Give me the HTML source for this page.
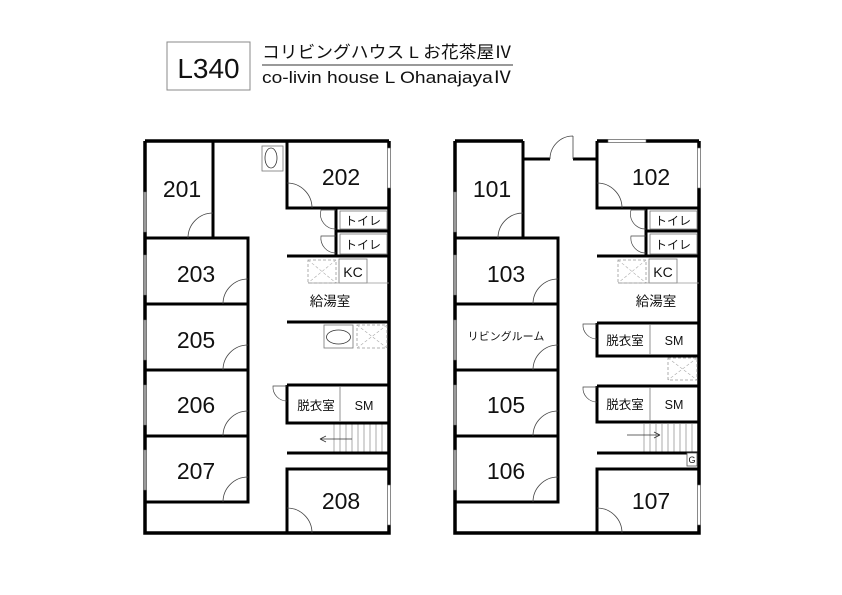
<!DOCTYPE html>
<html><head><meta charset="utf-8"><style>
html,body{margin:0;padding:0;background:#fff;}
svg{display:block;}
text{font-family:"Liberation Sans","Noto Sans CJK JP",sans-serif;fill:#111;}
.rn{font-size:23px;}
</style></head><body>
<svg width="842" height="595" viewBox="0 0 842 595" xmlns="http://www.w3.org/2000/svg">
<rect x="167" y="42" width="83" height="48" fill="#fff" stroke="#888" stroke-width="1"/>
<text x="208.5" y="78" font-size="28" text-anchor="middle">L340</text>
<text x="262" y="58" font-size="17" textLength="250" lengthAdjust="spacingAndGlyphs">コリビングハウス L お花茶屋Ⅳ</text>
<line x1="262" y1="65" x2="513" y2="65" stroke="#333" stroke-width="1"/>
<text x="262" y="83" font-size="17" textLength="250" lengthAdjust="spacingAndGlyphs">co-livin house L OhanajayaⅣ</text>

<defs>
<g id="common" fill="none">
  <path d="M145 141 V533 H389 V141" stroke="#000" stroke-width="3.5"/>
  <path d="M213 141 V238" stroke="#000" stroke-width="3"/>
  <path d="M145 238 H248 V502 H145" stroke="#000" stroke-width="3"/>
  <path d="M145 304 H248 M145 370 H248 M145 436 H248" stroke="#000" stroke-width="3"/>
  <path d="M213 213 A25 25 0 0 0 188 238 M248 279 A25 25 0 0 0 223 304 M248 345 A25 25 0 0 0 223 370 M248 411 A25 25 0 0 0 223 436 M248 477 A25 25 0 0 0 223 502" stroke="#444" stroke-width="0.8"/>
  <g fill="#999" stroke="#666" stroke-width="0.5">
    <rect x="143.5" y="192" width="3" height="40"/>
    <rect x="143.5" y="255" width="3" height="40"/>
    <rect x="143.5" y="320" width="3" height="40"/>
    <rect x="143.5" y="385" width="3" height="40"/>
    <rect x="143.5" y="450" width="3" height="40"/>
  </g>
  <path d="M287 141 V208 H389" stroke="#000" stroke-width="3"/>
  <path d="M287 183 A25 25 0 0 1 312 208" stroke="#444" stroke-width="0.8"/>
  <path d="M336 209 V256 M336 231 H389" stroke="#000" stroke-width="3"/>
  <rect x="340" y="211" width="47" height="18" stroke="#777" stroke-width="0.8" fill="#fff"/>
  <rect x="340" y="234" width="47" height="20" stroke="#777" stroke-width="0.8" fill="#fff"/>
  <path d="M336 210 H321 A15 15 0 0 0 336 229 M336 236 H321 A15 15 0 0 0 336 253" stroke="#444" stroke-width="0.7"/>
  <path d="M287 256 H389" stroke="#000" stroke-width="3"/>
  <rect x="308" y="260" width="28" height="23" stroke="#999" stroke-width="0.8" stroke-dasharray="3,2"/>
  <path d="M308 260 L336 283 M336 260 L308 283" stroke="#aaa" stroke-width="0.6" stroke-dasharray="3,2"/>
  <rect x="339" y="259" width="28" height="24" stroke="#777" stroke-width="0.8" fill="#fff"/>
  <path d="M308 283 H389" stroke="#999" stroke-width="0.8"/>
  <g stroke="#888" stroke-width="0.7">
    <path d="M334 424 V452 M340 424 V452 M346 424 V452 M352 424 V452 M358 424 V452 M364 424 V452 M370 424 V452 M376 424 V452 M382 424 V452"/>
  </g>
  <path d="M287 453 H389" stroke="#000" stroke-width="3"/>
  <path d="M287 533 V469 H389" stroke="#000" stroke-width="3"/>
  <path d="M287 508 A25 25 0 0 1 312 533" stroke="#444" stroke-width="0.8"/>
  <rect x="387.5" y="485" width="3" height="40" fill="#fff" stroke="#666" stroke-width="0.6"/>
  <rect x="387.5" y="148" width="3" height="40" fill="#fff" stroke="#666" stroke-width="0.6"/>
</g>
</defs>

<use href="#common"/>
<path d="M145 141 H389" stroke="#000" stroke-width="3.5"/>
<path d="M287 322 H389" stroke="#000" stroke-width="3"/>
<rect x="262" y="146" width="21" height="25" fill="none" stroke="#777" stroke-width="0.8"/>
<ellipse cx="271" cy="158" rx="6" ry="10" fill="none" stroke="#333" stroke-width="0.8"/>
<rect x="324" y="325" width="29" height="23" fill="none" stroke="#777" stroke-width="0.8"/>
<ellipse cx="338.5" cy="337" rx="12" ry="7" fill="none" stroke="#333" stroke-width="0.8"/>
<rect x="357" y="325" width="30" height="23" fill="none" stroke="#999" stroke-width="0.8" stroke-dasharray="3,2"/>
<path d="M357 325 L387 348 M387 325 L357 348" stroke="#aaa" stroke-width="0.6" stroke-dasharray="3,2"/>
<path d="M287 385 V423 H389 M287 385 H389" stroke="#000" stroke-width="3" fill="none"/>
<path d="M340 386 V422" stroke="#777" stroke-width="0.8"/>
<path d="M287 386 H273 A14 14 0 0 0 287 401" stroke="#444" stroke-width="0.7" fill="none"/>
<path d="M352 439 H320 M320 439 L326 436 M320 439 L326 442" stroke="#333" stroke-width="0.8" fill="none"/>
<text x="182" y="197" class="rn" text-anchor="middle">201</text>
<text x="341" y="185" class="rn" text-anchor="middle">202</text>
<text x="196" y="282" class="rn" text-anchor="middle">203</text>
<text x="196" y="348" class="rn" text-anchor="middle">205</text>
<text x="196" y="413" class="rn" text-anchor="middle">206</text>
<text x="196" y="479" class="rn" text-anchor="middle">207</text>
<text x="341" y="509" class="rn" text-anchor="middle">208</text>
<text x="363" y="225" font-size="12" text-anchor="middle">トイレ</text>
<text x="363" y="249" font-size="12" text-anchor="middle">トイレ</text>
<text x="353" y="277" font-size="14" text-anchor="middle">KC</text>
<text x="330" y="306" font-size="13.5" text-anchor="middle">給湯室</text>
<text x="316" y="410" font-size="12.5" text-anchor="middle">脱衣室</text>
<text x="364" y="410" font-size="12.5" text-anchor="middle">SM</text>

<g transform="translate(310,0)"><use href="#common"/></g>
<path d="M455 141 H523 M597 141 H699" stroke="#000" stroke-width="3.5" fill="none"/>
<path d="M523 159 H550 M573 159 H597" stroke="#000" stroke-width="3" fill="none"/>
<path d="M573 159 V136 M550 159 A23 23 0 0 1 573 136" stroke="#444" stroke-width="0.8" fill="none"/>
<rect x="608" y="139.5" width="38" height="3" fill="#fff" stroke="#666" stroke-width="0.6"/>
<path d="M597 323 V356 H699 M597 323 H699" stroke="#000" stroke-width="3" fill="none"/>
<path d="M650 324 V355" stroke="#777" stroke-width="0.8"/>
<path d="M597 324 H583 A14 14 0 0 0 597 339" stroke="#444" stroke-width="0.7" fill="none"/>
<rect x="668" y="358" width="29" height="22" fill="none" stroke="#999" stroke-width="0.8" stroke-dasharray="3,2"/>
<path d="M668 358 L697 380 M697 358 L668 380" stroke="#aaa" stroke-width="0.6" stroke-dasharray="3,2"/>
<path d="M597 386 V422 H699 M597 386 H699" stroke="#000" stroke-width="3" fill="none"/>
<path d="M650 387 V421" stroke="#777" stroke-width="0.8"/>
<path d="M597 387 H583 A14 14 0 0 0 597 402" stroke="#444" stroke-width="0.7" fill="none"/>
<path d="M627 435 H660 M660 435 L654 432 M660 435 L654 438" stroke="#333" stroke-width="0.8" fill="none"/>
<rect x="687" y="453" width="10" height="13" fill="#fff" stroke="#555" stroke-width="0.8"/>
<text x="692" y="463" font-size="9" text-anchor="middle">G</text>
<text x="492" y="197" class="rn" text-anchor="middle">101</text>
<text x="651" y="185" class="rn" text-anchor="middle">102</text>
<text x="506" y="282" class="rn" text-anchor="middle">103</text>
<text x="506" y="340" font-size="11" text-anchor="middle">リビングルーム</text>
<text x="506" y="413" class="rn" text-anchor="middle">105</text>
<text x="506" y="479" class="rn" text-anchor="middle">106</text>
<text x="651" y="509" class="rn" text-anchor="middle">107</text>
<text x="673" y="225" font-size="12" text-anchor="middle">トイレ</text>
<text x="673" y="249" font-size="12" text-anchor="middle">トイレ</text>
<text x="663" y="277" font-size="14" text-anchor="middle">KC</text>
<text x="656" y="306" font-size="13.5" text-anchor="middle">給湯室</text>
<text x="625" y="345" font-size="12.5" text-anchor="middle">脱衣室</text>
<text x="674" y="345" font-size="12.5" text-anchor="middle">SM</text>
<text x="625" y="409" font-size="12.5" text-anchor="middle">脱衣室</text>
<text x="674" y="409" font-size="12.5" text-anchor="middle">SM</text>
</svg>
</body></html>
